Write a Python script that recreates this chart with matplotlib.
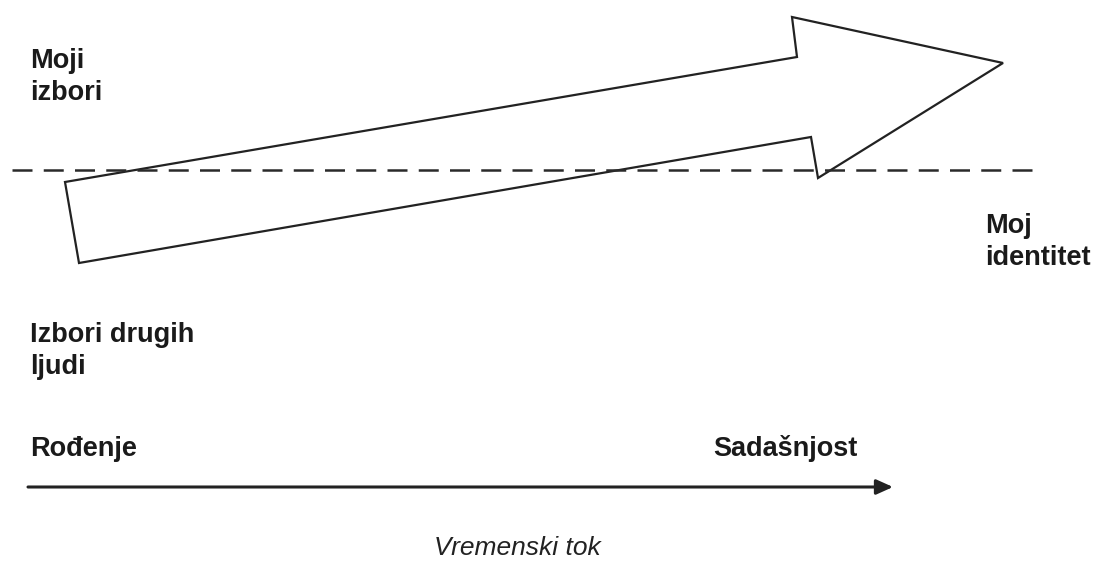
import matplotlib.pyplot as plt
from matplotlib.patches import Polygon

# big hollow arrow outline (pixel coords, y downwards)
arrow_x = [65, 79, 811, 818, 1003, 792, 797]
arrow_y = [182, 263, 137, 178, 63, 17, 57]

# dashed reference line
dash_x = [12, 1035]
dash_y = [170, 170]

# time axis
time_x = [28, 893]
time_y = [487, 487]

labels = ['Moji\nizbori', 'Moj\nidentitet', 'Izbori drugih\nljudi',
          'Rođenje', 'Sadašnjost']
label_x = [30, 985, 30, 30, 713]
label_y = [68, 233, 342, 456, 456]

plt.rcParams['font.family'] = ['Liberation Sans', 'DejaVu Sans']

fig = plt.figure(figsize=(10.95, 5.62), dpi=100)
ax = fig.add_axes([0, 0, 1, 1])
ax.set_xlim(0, 1095)
ax.set_ylim(562, 0)
ax.axis('off')

ax.add_patch(Polygon(list(zip(arrow_x, arrow_y)), closed=True,
                     facecolor='white', edgecolor='#222222', lw=1.6))

ax.plot(dash_x, dash_y, color='#2a2a2a', lw=1.8, dashes=(8, 4.5), zorder=1)

ax.annotate('', xy=(time_x[1], time_y[1]), xytext=(time_x[0], time_y[0]),
            arrowprops=dict(arrowstyle='-|>,head_length=1.0,head_width=0.45',
                            color='#222222', lw=2.2, shrinkA=0, shrinkB=0))

# first-line baselines are given in label_y
for txt, x, y in zip(labels, label_x, label_y):
  first = txt.split('\n')[0]
  rest = txt.split('\n')[1:]
  ax.text(x, y, first, fontsize=19.5, fontweight='bold', color='#1a1a1a',
          ha='left', va='baseline')
  for i, line in enumerate(rest):
    ax.text(x, y + 32 * (i + 1), line, fontsize=19.5, fontweight='bold',
            color='#1a1a1a', ha='left', va='baseline')

ax.text(517, 555, 'Vremenski tok', fontsize=19, style='italic',
        color='#222222', ha='center', va='baseline')

fig.savefig('out.png', dpi=100)
